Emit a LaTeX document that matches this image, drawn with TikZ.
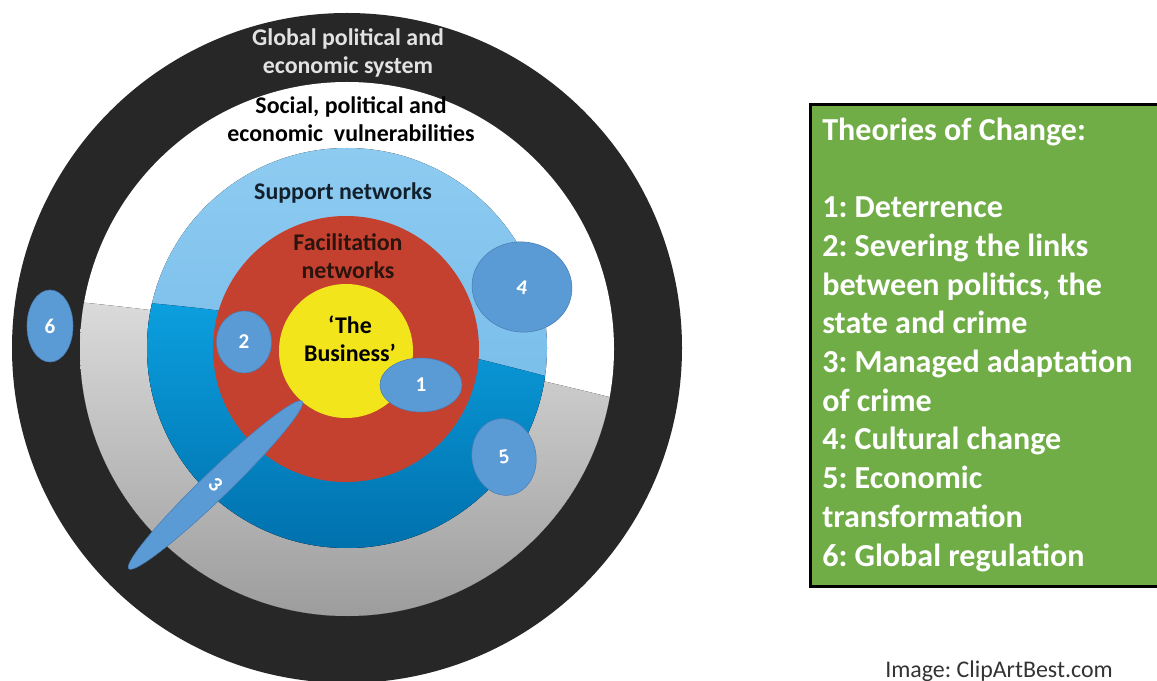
\documentclass[tikz,border=0pt]{standalone}
\usepackage{fontspec}
\setmainfont{Carlito}
\frenchspacing
\usetikzlibrary{shapes.geometric}

\definecolor{ringblack}{HTML}{272727}
\definecolor{greytop}{HTML}{DCDCDC}
\definecolor{greybot}{HTML}{9C9C9C}
\definecolor{bluetop}{HTML}{8ECBF1}
\definecolor{bluemid}{HTML}{6CB5E6}
\definecolor{deeptop}{HTML}{0CA0E0}
\definecolor{deepbot}{HTML}{0071AD}
\definecolor{targetred}{HTML}{C5412F}
\definecolor{targetyellow}{HTML}{F2E51C}
\definecolor{theoryblue}{HTML}{5B9BD5}
\definecolor{theoryedge}{HTML}{4A7EB4}
\definecolor{boxgreen}{HTML}{70AD47}
\definecolor{globaltext}{HTML}{E2E2E2}
\definecolor{supporttext}{HTML}{12202C}
\definecolor{facilitext}{HTML}{2A140E}
\definecolor{credittext}{HTML}{333333}

\begin{document}
\begin{tikzpicture}[x=0.025cm, y=-0.025cm,
    ring label/.style={font=\bfseries\fontsize{17}{20.5}\selectfont, align=center, anchor=base},
    theory/.style={ellipse, draw=theoryedge, fill=theoryblue, text=white, inner sep=0pt,
        font=\bfseries\fontsize{15}{18}\selectfont},
    legend box/.style={rectangle, draw=black, line width=2pt, fill=boxgreen, anchor=north west},
    legend text/.style={text=white, align=left, anchor=base west, inner sep=0pt,
        font=\bfseries\fontsize{22.8}{27.5}\selectfont}]
    \clip (0,0) rectangle (1157,681);
    \fill[white] (0,0) rectangle (1157,681);

    % target rings
    \fill[ringblack] (347,348) circle[radius=335];
    \fill[white] (347,349) circle[radius=267];
    \begin{scope}
        \clip (347,349) circle[radius=267];
        \fill[top color=greytop, bottom color=greybot] (0,295) .. controls (250,315) and (450,355) .. (700,420) -- (700,620) -- (0,620) -- cycle;
    \end{scope}
    \fill[top color=bluetop, bottom color=bluemid] (347,348) circle[radius=200];
    \begin{scope}
        \clip (347,348) circle[radius=200];
        \fill[top color=deeptop, bottom color=deepbot] (0,295) .. controls (250,300) and (450,345) .. (700,420) -- (700,550) -- (0,550) -- cycle;
    \end{scope}
    \fill[targetred] (346,349) circle[radius=133];
    \fill[targetyellow] (346,351) circle[radius=67];

    % ring labels (anchored on the last line)
    \node[ring label, text=globaltext] (global) at (348,74) {Global political and\\economic system};
    \node[ring label, text=black] (social) at (351,142) {Social, political and\\economic\ \ vulnerabilities};
    \node[ring label, text=supporttext] (support) at (343,200) {Support networks};
    \node[ring label, text=facilitext] (facil) at (348,279) {Facilitation\\networks};
    \node[ring label, text=black] (business) at (350,362) {‘The\\Business’};

    % theories of change
    \node[theory, minimum width=2.05cm, minimum height=1.35cm] (t1) at (421,385) {1};
    \node[theory, minimum width=1.375cm, minimum height=1.55cm] (t2) at (244,342) {2};
    \node[theory, minimum width=0.675cm, minimum height=6.025cm, rotate=-46] (t3) at (215.5,485) {3};
    \node[theory, minimum width=2.5cm, minimum height=2.25cm, rotate=-8] (t4) at (522,287) {4};
    \node[theory, minimum width=1.6cm, minimum height=1.925cm, rotate=10] (t5) at (504,457) {5};
    \node[theory, minimum width=1.15cm, minimum height=1.8cm] (t6) at (50,326) {6};

    % legend
    \node[legend box, minimum width=8.9cm, minimum height=12.05cm] (tocbox) at (809,103) {};
    \node[legend text] (toc) at (822,566) {Theories of Change:\\[27.5pt]
        1: Deterrence\\
        2: Severing the links\\
        between politics, the\\
        state and crime\\
        3: Managed adaptation\\
        of crime\\
        4: Cultural change\\
        5: Economic\\
        transformation\\
        6: Global regulation};

    \node[anchor=base west, inner sep=0pt, text=credittext, font=\fontsize{17}{20}\selectfont] (credit) at (885,677) {Image: ClipArtBest.com};
\end{tikzpicture}
\end{document}
